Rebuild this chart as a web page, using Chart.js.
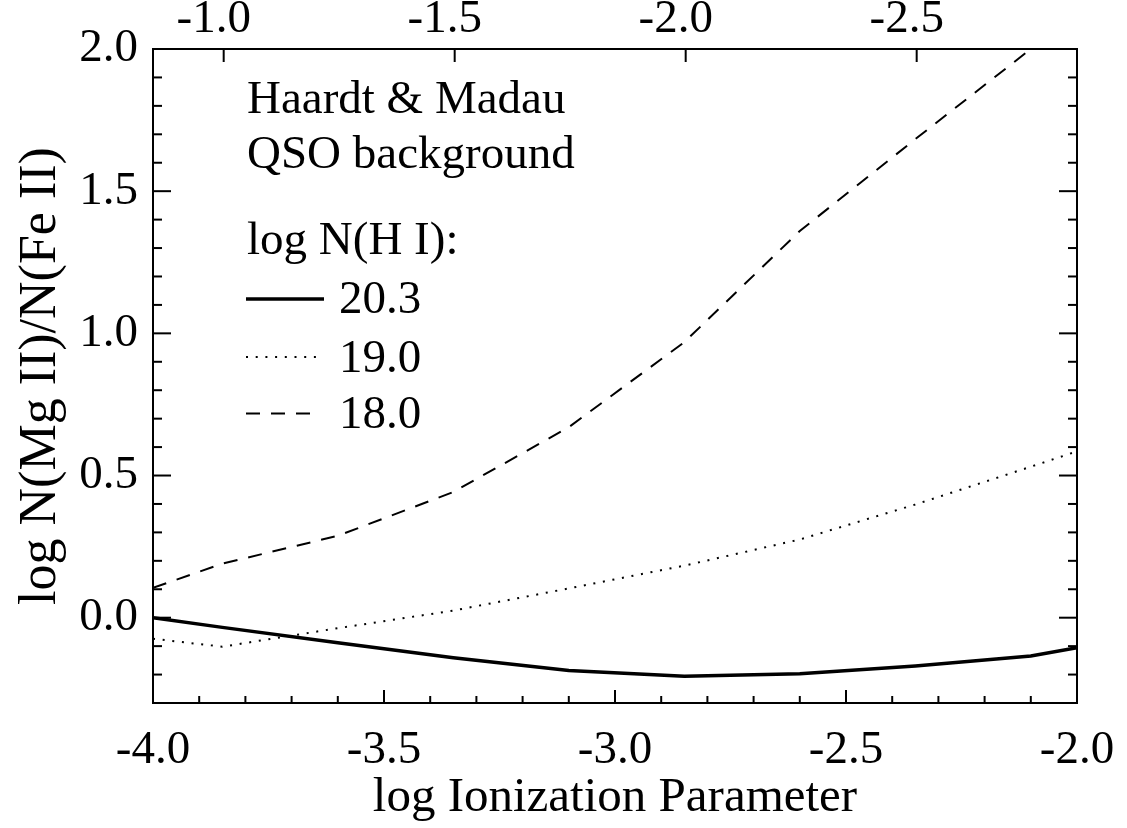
<!DOCTYPE html>
<html>
<head>
<meta charset="utf-8">
<script src="https://cdn.jsdelivr.net/npm/chart.js@4.4.1/dist/chart.umd.min.js"></script>
<style>
  html, body { margin: 0; padding: 0; background: #fff; }
  #wrap { width: 1127px; height: 828px; }
</style>
</head>
<body>
<div id="wrap"><canvas id="c" width="1127" height="828"></canvas></div>
<script>
// ---- data ----
const logU      = [-4.0, -3.85, -3.6, -3.35, -3.1, -2.85, -2.6, -2.35, -2.1, -2.0];
const ratioH203 = [0.0, -0.034, -0.088, -0.141, -0.186, -0.206, -0.197, -0.170, -0.135, -0.106];
const ratioH190 = [-0.074, -0.102, -0.037, 0.025, 0.103, 0.183, 0.275, 0.398, 0.531, 0.585];
const logU18    = [-4.0, -3.85, -3.6, -3.35, -3.1, -2.85, -2.6, -2.35, -2.1];
const ratioH180 = [0.105, 0.190, 0.288, 0.442, 0.670, 0.969, 1.360, 1.683, 2.0];

const seriesNames = ['20.3', '19.0', '18.0'];
const bottomTicks = [-4.0, -3.5, -3.0, -2.5, -2.0];
const topTicks    = [-1.0, -1.5, -2.0, -2.5];
const leftTicks   = [0.0, 0.5, 1.0, 1.5, 2.0];
const noteLines   = ['Haardt & Madau', 'QSO background', 'log N(H I):'];

const FONT = '"Liberation Serif", "Times New Roman", serif';
const FS = 47;

function pts(xs, ys) { return xs.map((x, i) => ({x: x, y: ys[i]})); }

const styles = [
  {borderWidth: 3.5, borderDash: []},
  {borderWidth: 2, borderDash: [2, 7.7]},
  {borderWidth: 2, borderDash: [14, 11]}
];

const datasets = [
  Object.assign({label: seriesNames[0], data: pts(logU, ratioH203)}, styles[0]),
  Object.assign({label: seriesNames[1], data: pts(logU, ratioH190)}, styles[1]),
  Object.assign({label: seriesNames[2], data: pts(logU18, ratioH180)}, styles[2])
].map(d => Object.assign(d, {borderColor: '#000', backgroundColor: '#000', pointRadius: 0, fill: false, tension: 0, borderCapStyle: 'butt'}));

const fmt = v => Number(v).toFixed(1);

// inward ticks and annotation text
const decor = {
  id: 'decor',
  afterDraw(chart) {
    const ctx = chart.ctx, a = chart.chartArea, s = chart.scales;
    ctx.save();
    ctx.strokeStyle = '#000';
    ctx.lineWidth = 2;
    ctx.lineCap = 'butt';
    const line = (x1, y1, x2, y2) => { ctx.beginPath(); ctx.moveTo(x1, y1); ctx.lineTo(x2, y2); ctx.stroke(); };
    for (let k = 0; k <= 20; k++) {
      const v = -4 + k * 0.1;
      const px = s.x.getPixelForValue(v);
      const len = (k % 5 === 0) ? 13 : 7;
      line(px, a.bottom, px, a.bottom - len);
    }
    topTicks.forEach(v => { const px = s.x2.getPixelForValue(v); line(px, a.top, px, a.top + 13); });
    for (let k = 0; k <= 23; k++) {
      const v = -0.3 + k * 0.1;
      const py = s.y.getPixelForValue(v);
      const major = Math.abs((v / 0.5) - Math.round(v / 0.5)) < 1e-6;
      const len = major ? 18 : 9;
      line(a.left, py, a.left + len, py);
      line(a.right, py, a.right - len, py);
    }
    ctx.fillStyle = '#000';
    ctx.font = FS + 'px ' + FONT;
    ctx.textAlign = 'left';
    ctx.textBaseline = 'alphabetic';
    const noteY = [113, 168, 254];
    noteLines.forEach((t, i) => ctx.fillText(t, 247, noteY[i]));
    const legY = [313, 371.5, 428];
    const sampleY = [299, 357, 413.5];
    seriesNames.forEach((t, i) => {
      ctx.fillText(t, 339, legY[i]);
      ctx.save();
      ctx.lineWidth = styles[i].borderWidth;
      ctx.setLineDash(styles[i].borderDash);
      line(246, sampleY[i], i === 0 ? 324 : 317, sampleY[i]);
      ctx.restore();
    });
    ctx.restore();
  }
};

const tickFont = {family: FONT, size: FS};
const noSidePad = sc => { sc.paddingLeft = 0; sc.paddingRight = 0; };

new Chart(document.getElementById('c'), {
  type: 'line',
  data: {datasets: datasets},
  plugins: [decor],
  options: {
    responsive: false,
    animation: false,
    events: [],
    layout: {padding: 0},
    plugins: {legend: {display: false}, tooltip: {enabled: false}},
    scales: {
      x: {
        type: 'linear', position: 'bottom', min: -4, max: -2,
        afterBuildTicks: sc => { sc.ticks = bottomTicks.map(v => ({value: v})); },
        afterFit: sc => { sc.height = 125; noSidePad(sc); },
        ticks: {callback: fmt, font: tickFont, color: '#000', padding: 19, maxRotation: 0, autoSkip: false},
        grid: {display: false, drawTicks: false},
        border: {display: true, color: '#000', width: 2},
        title: {display: true, text: 'log Ionization Parameter', font: {family: FONT, size: 49}, color: '#000', padding: {top: 0, bottom: 0}}
      },
      x2: {
        type: 'linear', position: 'top', min: -2.847, max: -0.847, reverse: true,
        afterBuildTicks: sc => { sc.ticks = topTicks.map(v => ({value: v})); },
        afterFit: sc => { sc.height = 49; noSidePad(sc); },
        ticks: {callback: fmt, font: tickFont, color: '#000', padding: 1, labelOffset: -10, maxRotation: 0, autoSkip: false},
        grid: {display: false, drawTicks: false},
        border: {display: true, color: '#000', width: 2}
      },
      y: {
        type: 'linear', position: 'left', min: -0.3, max: 2.0,
        afterBuildTicks: sc => { sc.ticks = leftTicks.map(v => ({value: v})); },
        afterFit: sc => { sc.width = 153; sc.paddingTop = 0; sc.paddingBottom = 0; },
        ticks: {callback: fmt, font: tickFont, color: '#000', padding: 15, autoSkip: false},
        grid: {display: false, drawTicks: false},
        border: {display: true, color: '#000', width: 2},
        title: {display: true, text: 'log N(Mg II)/N(Fe II)', font: {family: FONT, size: 52}, color: '#000', padding: {top: 10, bottom: 0}}
      },
      y2: {
        type: 'linear', position: 'right', min: -0.3, max: 2.0,
        afterFit: sc => { sc.width = 50; sc.paddingTop = 0; sc.paddingBottom = 0; },
        ticks: {display: false},
        grid: {display: false, drawTicks: false},
        border: {display: true, color: '#000', width: 2}
      }
    }
  }
});
</script>
</body>
</html>
